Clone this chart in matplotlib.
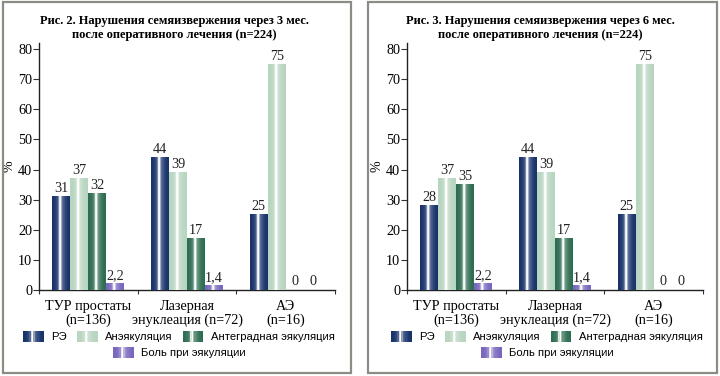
import numpy as np
import matplotlib as mpl
mpl.use('Agg')
import matplotlib.pyplot as plt
from matplotlib.patches import Rectangle
from matplotlib.legend_handler import HandlerBase
from matplotlib.colors import to_rgb

## data

categories = ['ТУР простаты\n(n=136)', 'Лазерная\nэнуклеация (n=72)', 'АЭ\n(n=16)']
series_names = ['РЭ', 'Анэякуляция', 'Антеградная эякуляция', 'Боль при эякуляции']

re_3m = [31, 44, 25]
anej_3m = [37, 39, 75]
antegr_3m = [32, 17, 0]
pain_3m = [2.2, 1.4, 0]

re_6m = [28, 44, 25]
anej_6m = [37, 39, 75]
antegr_6m = [35, 17, 0]
pain_6m = [2.2, 1.4, 0]

titles = [
    ['Рис. 2. Нарушения семяизвержения через 3 мес.', 'после оперативного лечения (n=224)'],
    ['Рис. 3. Нарушения семяизвержения через 6 мес.', 'после оперативного лечения (n=224)'],
]

yticks = [0, 10, 20, 30, 40, 50, 60, 70, 80]

## styling

base_colors = ['#17326a', '#b7d5bf', '#2d6c50', '#7866bd']
SERIF = 'Liberation Serif'
SANS = 'Liberation Sans'


def profile(n):
    t = np.linspace(0, 1, n)
    f = 0.95 * np.exp(-((t - 0.45) / 0.07) ** 2) + 0.3 * np.exp(-((t - 0.5) / 0.25) ** 2)
    return np.clip(f, 0, 1)


def gradient_colors(color, n):
    c = np.array(to_rgb(color))
    f = profile(n)[:, None]
    return c * (1 - f) + np.ones(3) * f


class GradientHandler(HandlerBase):
    def __init__(self, color):
        super().__init__()
        self.color = color

    def create_artists(self, legend, orig_handle, xdescent, ydescent, width, height, fontsize, trans):
        n = 16
        cols = gradient_colors(self.color, n)
        artists = []
        w = width / n
        for i in range(n):
            r = Rectangle((-xdescent + i * w, -ydescent - 1), w * 1.05, height + 2,
                          facecolor=cols[i], edgecolor='none', transform=trans)
            artists.append(r)
        return artists


def draw_panel(fig, rect, frame, data, title_lines, title_x):
    ax = fig.add_axes(rect)
    n_groups = len(categories)
    bw = 0.182
    x = np.arange(n_groups) + 0.5
    offsets = (np.arange(4) - 1.5) * bw
    for si, vals in enumerate(data):
        grad = gradient_colors(base_colors[si], 64)[None, :, :]
        for gi, v in enumerate(vals):
            x0 = x[gi] + offsets[si] - bw / 2
            if v > 0:
                ax.imshow(grad, extent=(x0, x0 + bw, 0, v), aspect='auto',
                          interpolation='bilinear', zorder=3)
            lbl = ('%g' % v).replace('.', ',')
            ax.text(x0 + bw / 2, v + 0.5, lbl, ha='center', va='bottom',
                    fontsize=10.2, family=SERIF, color='#222222', zorder=4)

    ax.set_xlim(0, n_groups)
    ax.set_ylim(0, 82)
    ax.set_yticks(yticks)
    ax.set_yticklabels([str(t) for t in yticks], family=SERIF, fontsize=10.2)
    ax.set_xticks(np.arange(n_groups + 1))
    ax.set_xticklabels([])
    ax.set_xticks(x, minor=True)
    ax.set_xticklabels(categories, minor=True, family=SERIF, fontsize=10.2, linespacing=1.05)
    ax.tick_params(axis='x', which='minor', length=0, pad=7)
    ax.tick_params(axis='x', which='major', length=3, width=0.8, color='#333333')
    ax.tick_params(axis='y', length=4, width=0.8, pad=1, color='#333333')
    for s in ['top', 'right']:
        ax.spines[s].set_visible(False)
    for s in ['left', 'bottom']:
        ax.spines[s].set_linewidth(1.0)
        ax.spines[s].set_color('#222222')
    ax.set_ylabel('%', family=SERIF, fontsize=10, labelpad=0)
    ax.yaxis.set_label_coords(-0.078, 0.5)

    ## titles
    fig.text(title_x, 1 - 21 / 376, title_lines[0], ha='center', va='center',
             family=SERIF, fontweight='bold', fontsize=9.0)
    fig.text(title_x, 1 - 35 / 376, title_lines[1], ha='center', va='center',
             family=SERIF, fontweight='bold', fontsize=9.0)

    ## frame
    fx0, fy0, fx1, fy1 = frame
    fig.patches.append(Rectangle((fx0 / 720, 1 - fy1 / 376), (fx1 - fx0) / 720, (fy1 - fy0) / 376,
                                 transform=fig.transFigure, fill=False,
                                 edgecolor='#8c8c84', linewidth=1.6))

    ## legend
    handles = [Rectangle((0, 0), 1, 1, color=c) for c in base_colors]
    hmap = {h: GradientHandler(c) for h, c in zip(handles, base_colors)}
    leg_kw = dict(frameon=False, prop={'family': SANS, 'size': 8.1}, handlelength=1.85,
                  handleheight=0.75, handletextpad=0.65, columnspacing=0.9, borderpad=0,
                  borderaxespad=0, handler_map=hmap)
    leg1 = ax.legend(handles[:3], series_names[:3], ncol=3, loc='center',
                     bbox_to_anchor=(0.472, -47 / 247), **leg_kw)
    ax.add_artist(leg1)
    ax.legend(handles[3:], series_names[3:], ncol=1, loc='center',
              bbox_to_anchor=(0.474, -63 / 247), **leg_kw)
    return ax


fig = plt.figure(figsize=(7.2, 3.76), dpi=100)
fig.patch.set_facecolor('white')

draw_panel(fig, [39 / 720, 86 / 376, 296 / 720, 247 / 376], (3, 2, 351, 373),
           [re_3m, anej_3m, antegr_3m, pain_3m], titles[0], 174 / 720)
draw_panel(fig, [407 / 720, 86 / 376, 296 / 720, 247 / 376], (368, 2, 717, 373),
           [re_6m, anej_6m, antegr_6m, pain_6m], titles[1], 540 / 720)

fig.savefig('out.png', dpi=100)
